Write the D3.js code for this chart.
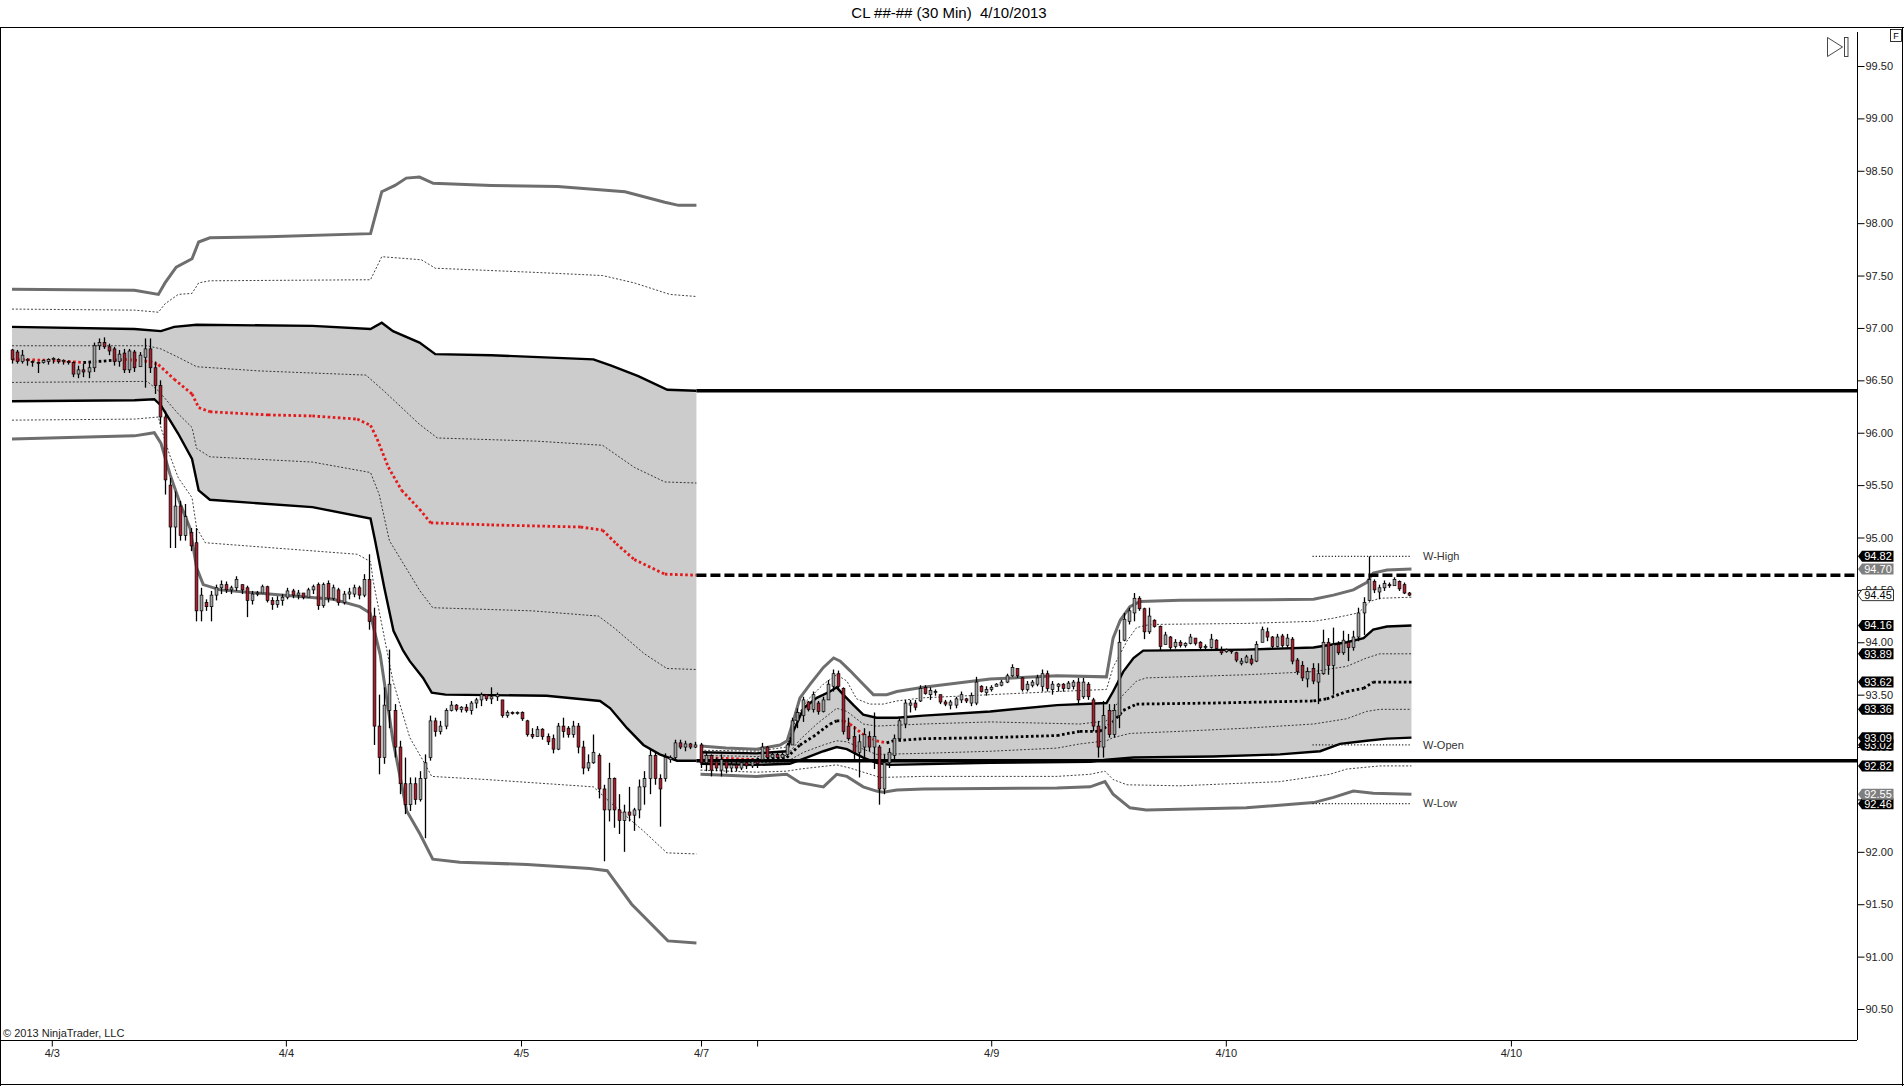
<!DOCTYPE html>
<html>
<head>
<meta charset="utf-8">
<script src="https://cdn.jsdelivr.net/npm/d3@7"></script>
<style>
  body { margin: 0; background: #fff; }
  svg { display: block; font-family: "Liberation Sans", Arial, sans-serif; }
  .title { white-space: pre; }
</style>
</head>
<body>
<svg id="chart" width="1904" height="1086"></svg>
<script>
var width = 1904,
    height = 1086;
const plotRight = 1857, plotTop = 27, plotBottom = 1040;

// 30 min bars, [open, high, low, close]
const week1Bars = [
  [96.79,96.80,96.66,96.70],[96.77,96.79,96.66,96.68],[96.68,96.79,96.66,96.74],[96.69,96.71,96.64,96.70],
  [96.68,96.69,96.63,96.67],[96.67,96.68,96.57,96.66],[96.67,96.70,96.66,96.69],[96.68,96.71,96.65,96.70],
  [96.70,96.72,96.66,96.71],[96.70,96.71,96.66,96.68],[96.68,96.70,96.65,96.69],[96.68,96.69,96.65,96.67],
  [96.67,96.68,96.53,96.56],[96.56,96.64,96.52,96.60],[96.60,96.66,96.53,96.58],[96.58,96.68,96.52,96.62],
  [96.62,96.86,96.58,96.83],[96.83,96.90,96.79,96.86],[96.86,96.91,96.80,96.82],[96.82,96.85,96.74,96.78],
  [96.80,96.82,96.64,96.68],[96.68,96.79,96.63,96.75],[96.76,96.80,96.57,96.60],[96.60,96.80,96.57,96.78],
  [96.77,96.79,96.58,96.62],[96.63,96.77,96.63,96.74],[96.72,96.90,96.43,96.80],[96.80,96.90,96.57,96.62],
  [96.62,96.68,96.37,96.45],[96.45,96.50,96.08,96.15],[96.15,96.21,95.41,95.55],[95.50,95.57,94.90,95.10],
  [95.10,95.44,94.90,95.30],[95.30,95.35,94.97,95.02],[95.02,95.32,94.97,95.20],[95.05,95.09,94.87,94.92],
  [94.95,95.09,94.20,94.30],[94.30,94.52,94.20,94.45],[94.38,94.41,94.30,94.34],[94.34,94.49,94.20,94.45],
  [94.45,94.55,94.40,94.52],[94.52,94.59,94.46,94.55],[94.55,94.58,94.47,94.50],[94.50,94.54,94.46,94.52],
  [94.52,94.63,94.49,94.60],[94.55,94.55,94.46,94.50],[94.52,94.54,94.24,94.40],[94.40,94.49,94.36,94.46],
  [94.46,94.49,94.44,94.47],[94.47,94.55,94.47,94.53],[94.53,94.54,94.38,94.40],[94.40,94.43,94.31,94.36],
  [94.36,94.44,94.33,94.40],[94.40,94.46,94.35,94.43],[94.43,94.52,94.41,94.49],[94.49,94.51,94.42,94.45],
  [94.45,94.50,94.41,94.47],[94.47,94.47,94.41,94.43],[94.43,94.52,94.43,94.50],[94.50,94.55,94.46,94.53],
  [94.55,94.57,94.31,94.35],[94.35,94.57,94.33,94.55],[94.56,94.59,94.38,94.42],[94.42,94.55,94.40,94.52],
  [94.50,94.52,94.35,94.38],[94.38,94.49,94.36,94.46],[94.46,94.52,94.41,94.48],[94.46,94.55,94.43,94.52],
  [94.52,94.54,94.41,94.45],[94.45,94.65,94.43,94.60],[94.60,94.84,94.12,94.20],[94.25,94.33,93.02,93.20],
  [93.20,93.50,92.74,92.90],[92.90,93.57,92.84,93.40],[93.35,93.93,93.18,93.60],[93.35,93.41,92.90,93.00],
  [93.00,93.06,92.55,92.65],[92.65,92.90,92.36,92.45],[92.45,92.71,92.39,92.65],[92.65,92.71,92.45,92.50],
  [92.50,92.77,92.48,92.70],[92.70,92.93,92.13,92.85],[92.90,93.30,92.87,93.25],[93.25,93.28,93.10,93.15],
  [93.15,93.25,93.12,93.20],[93.20,93.37,93.17,93.35],[93.35,93.44,93.34,93.40],[93.40,93.41,93.34,93.36],
  [93.36,93.39,93.33,93.38],[93.38,93.41,93.33,93.35],[93.35,93.44,93.31,93.42],[93.42,93.47,93.37,93.45],
  [93.45,93.52,93.39,93.50],[93.50,93.50,93.44,93.46],[93.46,93.57,93.41,93.48],[93.48,93.52,93.44,93.50],
  [93.45,93.45,93.28,93.30],[93.30,93.35,93.28,93.33],[93.33,93.34,93.31,93.32],[93.32,93.34,93.31,93.33],
  [93.33,93.34,93.25,93.27],[93.25,93.26,93.10,93.12],[93.12,93.18,93.08,93.10],[93.10,93.20,93.10,93.17],
  [93.17,93.18,93.07,93.10],[93.10,93.13,93.02,93.05],[93.08,93.12,92.94,92.98],[92.98,93.23,92.97,93.20],
  [93.20,93.28,93.09,93.15],[93.18,93.20,93.09,93.12],[93.12,93.25,93.09,93.20],[93.20,93.23,92.94,93.00],
  [93.00,93.06,92.74,92.80],[92.80,92.93,92.77,92.85],[92.85,93.12,92.84,92.95],[92.92,92.94,92.51,92.60],
  [92.60,92.64,91.91,92.40],[92.40,92.85,92.29,92.70],[92.70,92.71,92.23,92.40],[92.40,92.55,92.17,92.30],
  [92.30,92.45,92.00,92.38],[92.38,92.62,92.29,92.35],[92.35,92.42,92.20,92.40],[92.40,92.69,92.32,92.62],
  [92.62,92.77,92.45,92.70],[92.70,92.98,92.55,92.92],[92.92,92.96,92.64,92.70],[92.70,92.74,92.24,92.60],
  [92.70,92.94,92.67,92.90],[92.88,92.92,92.85,92.90],[92.90,93.07,92.87,93.04],[93.04,93.07,92.98,93.00],
  [93.00,93.06,92.96,93.03],[93.03,93.04,92.98,93.00],[93.00,93.05,92.99,93.02]
];
const week2Start = 135;
const week2Bars = [
  [93.02,93.04,92.80,92.85],[92.85,92.96,92.77,92.92],[92.92,92.93,92.72,92.78],[92.86,92.90,92.77,92.80],
  [92.78,92.93,92.72,92.88],[92.86,92.88,92.75,92.80],[92.80,92.86,92.76,92.83],[92.83,92.87,92.77,92.80],
  [92.80,92.88,92.78,92.85],[92.85,92.87,92.79,92.82],[92.82,92.89,92.80,92.86],[92.86,92.90,92.80,92.84],
  [92.88,93.04,92.87,93.00],[93.00,93.01,92.88,92.90],[92.90,92.95,92.88,92.93],[92.93,92.95,92.88,92.90],
  [92.90,92.95,92.87,92.93],[92.93,93.04,92.93,93.02],[93.02,93.28,93.02,93.25],[93.25,93.37,93.18,93.33],
  [93.30,93.48,93.24,93.45],[93.43,93.44,93.34,93.36],[93.36,93.53,93.33,93.50],[93.42,93.44,93.31,93.34],
  [93.34,93.48,93.33,93.45],[93.45,93.64,93.45,93.60],[93.58,93.74,93.53,93.70],[93.70,93.73,93.55,93.58],
  [93.56,93.57,93.12,93.15],[93.20,93.28,93.06,93.08],[93.10,93.20,92.87,92.95],[92.95,93.12,92.71,93.05],
  [93.00,93.18,92.88,93.12],[93.10,93.15,92.96,93.00],[93.00,93.33,92.79,93.10],[93.00,93.02,92.45,92.60],
  [92.60,92.93,92.55,92.85],[92.85,92.99,92.80,92.95],[92.92,93.12,92.87,93.08],[93.08,93.28,93.06,93.25],
  [93.22,93.45,93.18,93.42],[93.40,93.45,93.33,93.42],[93.42,93.45,93.35,93.38],[93.44,93.59,93.43,93.56],
  [93.57,93.59,93.50,93.51],[93.50,93.57,93.45,93.54],[93.52,93.55,93.49,93.53],[93.50,93.50,93.41,93.43],
  [93.43,93.45,93.39,93.41],[93.40,93.45,93.36,93.43],[93.40,93.48,93.37,93.46],[93.45,93.53,93.42,93.50],
  [93.46,93.47,93.42,93.44],[93.42,93.52,93.39,93.49],[93.42,93.67,93.40,93.62],[93.58,93.59,93.52,93.53],
  [93.52,93.58,93.49,93.55],[93.55,93.59,93.53,93.57],[93.58,93.61,93.58,93.60],[93.59,93.64,93.58,93.62],
  [93.62,93.70,93.61,93.68],[93.68,93.79,93.67,93.76],[93.75,93.75,93.66,93.68],[93.66,93.67,93.53,93.55],
  [93.55,93.63,93.53,93.60],[93.59,93.64,93.57,93.62],[93.60,93.69,93.58,93.66],[93.58,93.74,93.53,93.70],
  [93.70,93.73,93.53,93.56],[93.55,93.63,93.50,93.60],[93.58,93.61,93.53,93.60],[93.60,93.61,93.53,93.56],
  [93.56,93.63,93.55,93.61],[93.58,93.64,93.55,93.62],[93.62,93.66,93.40,93.45],[93.48,93.66,93.46,93.62],
  [93.60,93.62,93.45,93.48],[93.45,93.47,93.15,93.20],[93.20,93.25,92.90,93.00],[93.00,93.44,92.90,93.30],
  [93.35,93.41,93.09,93.12],[93.12,93.41,93.09,93.35],[93.30,94.12,93.18,94.00],[94.02,94.28,94.01,94.22],
  [94.20,94.33,94.17,94.30],[94.28,94.47,94.20,94.42],[94.42,94.44,94.30,94.32],[94.32,94.33,94.03,94.10],
  [94.10,94.33,94.08,94.25],[94.21,94.22,94.14,94.15],[94.15,94.16,93.92,93.96],[93.98,94.10,93.98,94.07],
  [94.05,94.06,93.92,93.95],[93.96,94.03,93.94,94.00],[94.00,94.02,93.95,93.97],[93.97,94.00,93.95,93.99],
  [93.99,94.08,93.98,94.05],[94.04,94.03,93.97,93.99],[94.00,94.01,93.93,93.95],[93.95,93.98,93.92,93.96],
  [93.95,94.08,93.94,94.03],[94.02,94.03,93.92,93.94],[93.92,93.96,93.88,93.90],[93.91,93.94,93.90,93.93],
  [93.92,93.93,93.89,93.91],[93.90,93.91,93.81,93.83],[93.80,93.85,93.78,93.82],[93.81,93.88,93.80,93.86],
  [93.84,93.88,93.78,93.80],[93.82,94.01,93.81,93.98],[94.00,94.15,94.00,94.12],[94.10,94.14,94.01,94.05],
  [94.05,94.06,93.94,93.96],[93.96,94.08,93.95,94.05],[94.06,94.08,93.95,93.97],[93.97,94.08,93.95,94.04],
  [94.03,94.05,93.79,93.82],[93.83,93.85,93.69,93.72],[93.78,93.82,93.63,93.66],[93.65,93.76,93.57,93.72],
  [93.75,93.80,93.60,93.63],[93.62,93.80,93.41,93.70],[93.70,94.12,93.69,94.00],[94.00,94.04,93.69,93.78],
  [93.78,94.14,93.50,93.98],[93.98,94.01,93.88,93.90],[93.90,94.11,93.88,94.02],[94.00,94.08,93.82,93.95],
  [93.95,94.11,93.92,94.05],[94.05,94.33,94.01,94.28],[94.28,94.43,94.07,94.38],[94.40,94.82,94.39,94.60],
  [94.58,94.60,94.47,94.50],[94.48,94.55,94.41,94.52],[94.52,94.59,94.49,94.56],[94.55,94.57,94.52,94.54],
  [94.54,94.62,94.54,94.60],[94.58,94.59,94.49,94.51],[94.55,94.57,94.46,94.47],[94.47,94.48,94.44,94.45]
];

// weekly VWAP bands, [bar index, price]
const w1OuterUp = [[0,97.37],[24,97.36],[28.7,97.32],[30,97.43],[32.2,97.58],[35.3,97.66],[36.6,97.82],[38.8,97.86],[50.2,97.87],[70.3,97.90],[72.5,98.30],[75.1,98.36],[77.3,98.43],[79.9,98.44],[82.6,98.38],[94,98.36],[107,98.35],[120.2,98.30],[128,98.20],[130.7,98.17],[134.2,98.17]];
const w1Up15 = [[0,97.18],[24,97.17],[28.7,97.15],[30,97.23],[32.6,97.32],[35.3,97.33],[36.6,97.43],[38.8,97.45],[70.3,97.46],[72.5,97.68],[80.3,97.65],[83,97.57],[102.7,97.53],[115.8,97.50],[122,97.43],[129,97.32],[134.2,97.30]];
const w1Up1 = [[0,97.01],[24,96.99],[29.2,96.97],[31.8,97.01],[36.2,97.03],[58.9,97.02],[70.3,96.99],[72.5,97.05],[74.7,96.97],[79.9,96.86],[83,96.75],[94,96.74],[114,96.70],[117.5,96.64],[122.8,96.54],[128.5,96.41],[134.2,96.40]];
const w1Up05 = [[0,96.83],[26.5,96.83],[29.2,96.80],[32.6,96.72],[36.2,96.63],[48.4,96.59],[69.4,96.55],[72.9,96.40],[79.9,96.08],[83.4,95.95],[102.7,95.92],[115.8,95.88],[122,95.67],[128,95.53],[134.2,95.52]];
const w1Vwap = [[0,96.70],[8,96.69],[14,96.67],[17,96.68],[22,96.70],[27,96.68],[28.7,96.65],[31.8,96.51],[35.3,96.37],[36.6,96.24],[38.8,96.20],[50.2,96.17],[58.9,96.16],[67.7,96.13],[70.3,96.07],[71.6,95.94],[73.8,95.67],[76.4,95.45],[79.9,95.27],[82.1,95.14],[94,95.12],[111.5,95.10],[115.8,95.07],[118.5,94.94],[122,94.79],[128,94.65],[134.2,94.64]];
const w1Lo05 = [[0,96.48],[26.5,96.49],[28.7,96.40],[32.6,96.18],[35.3,96.05],[36.2,95.85],[38.8,95.77],[58.9,95.72],[70.3,95.62],[72,95.41],[74,94.97],[80,94.49],[82.5,94.33],[102,94.30],[115,94.25],[118,94.14],[124,93.89],[128.4,93.75],[134.2,93.74]];
const w1Lo1 = [[0,96.30],[24,96.31],[27.9,96.32],[29.2,96.26],[32.6,95.99],[35.3,95.75],[36.6,95.45],[38.8,95.36],[58.9,95.29],[70.3,95.18],[71.2,94.97],[73,94.52],[74.8,94.11],[76.7,93.92],[78,93.82],[80.6,93.66],[82.3,93.52],[85,93.50],[104.8,93.49],[115.3,93.44],[117.3,93.37],[120.6,93.18],[123.8,93.02],[127,92.93],[130.4,92.87],[134.2,92.87]];
const w1Lo15 = [[0,96.12],[24,96.13],[28.7,96.15],[29.2,96.05],[30.9,95.79],[32.6,95.57],[35.3,95.38],[36.2,95.09],[37.9,94.95],[67.7,94.84],[70.3,94.77],[70.8,94.59],[74.7,93.63],[78,93.09],[80.6,92.87],[82.3,92.72],[93,92.69],[114,92.62],[117.8,92.45],[123.8,92.20],[128.4,91.99],[134.2,91.98]];
const w1OuterLo = [[0,95.94],[24,95.97],[27.9,96.00],[29.2,95.90],[31,95.60],[33,95.32],[34.9,95.09],[36.2,94.71],[37.5,94.55],[40.8,94.50],[63,94.41],[68.2,94.34],[70.2,94.28],[72.2,93.88],[74.7,93.06],[77.4,92.39],[80,92.17],[82.5,91.93],[87.8,91.90],[101,91.88],[113.3,91.84],[116.7,91.82],[121.5,91.50],[128.6,91.15],[134.2,91.13]];

const w2OuterUp = [[135,93.01],[140,92.99],[146,92.98],[150.6,93.02],[152,93.06],[153.2,93.25],[154.5,93.47],[156.5,93.60],[159.1,93.76],[161.1,93.85],[162.4,93.82],[164.3,93.73],[166.9,93.60],[168.9,93.50],[171.5,93.50],[173.5,93.53],[178.7,93.57],[191.8,93.65],[204.9,93.68],[214.6,93.67],[215.9,94.04],[217.3,94.21],[219.2,94.34],[221.2,94.39],[229,94.40],[255.2,94.41],[259.1,94.45],[263,94.50],[265.6,94.57],[266.9,94.66],[269.6,94.69],[274.4,94.70]];
const w2Up15 = [[135,92.97],[146,92.96],[151.9,93.00],[153.8,93.28],[155.8,93.44],[159.1,93.60],[161.7,93.69],[163.7,93.63],[165.6,93.46],[168.2,93.41],[170.8,93.41],[173.5,93.44],[178.7,93.47],[191.8,93.50],[204.9,93.53],[214.6,93.55],[215.9,93.76],[218.6,94.01],[220.5,94.14],[223.1,94.17],[242,94.18],[255.2,94.20],[259.1,94.23],[264,94.28],[266.3,94.39],[268.2,94.42],[274.4,94.43]];
const w2Up1 = [[135,92.95],[146,92.94],[151.9,92.96],[153.2,93.15],[155.2,93.37],[157.8,93.47],[160.4,93.53],[161.7,93.57],[163,93.50],[165,93.40],[166.9,93.31],[169.5,93.28],[173.5,93.28],[178.7,93.30],[191.8,93.34],[204.9,93.40],[214.6,93.42],[215.9,93.53],[217.9,93.72],[219.9,93.85],[221.8,93.92],[242,93.93],[255.2,93.95],[261.7,94.00],[265,94.04],[266.9,94.12],[269.6,94.15],[274.4,94.16]];
const w2Up05 = [[135,92.92],[146,92.91],[151.9,92.92],[154.5,93.07],[157.8,93.22],[161.7,93.37],[163.7,93.34],[166.9,93.22],[169.5,93.20],[178.7,93.22],[191.8,93.24],[209.4,93.22],[214.6,93.25],[215.9,93.36],[217.9,93.50],[220.5,93.63],[222.4,93.66],[242,93.69],[255.2,93.72],[261.7,93.77],[265.6,93.85],[268.2,93.89],[274.4,93.89]];
const w2Vwap = [[135,92.90],[146,92.88],[151.9,92.90],[154.5,93.02],[157.1,93.10],[160.4,93.22],[161.7,93.25],[163,93.25],[164.3,93.22],[166.9,93.12],[169.5,93.06],[171.5,93.04],[172.8,93.06],[178.7,93.08],[191.8,93.09],[204.9,93.11],[209.4,93.15],[213.3,93.15],[215.9,93.24],[217.9,93.35],[220.5,93.41],[235.5,93.42],[255.2,93.44],[257.8,93.46],[261.7,93.53],[265,93.56],[266.9,93.62],[274.4,93.62]];
const w2Lo05 = [[135,92.87],[146,92.85],[151.9,92.86],[155.2,92.95],[159.1,93.02],[161.7,93.06],[163.7,93.05],[166.9,92.98],[169.5,92.93],[178.7,92.94],[191.8,92.96],[204.9,92.99],[209.4,93.03],[214.6,93.06],[215.9,93.09],[219.2,93.13],[229,93.15],[242,93.18],[255.2,93.22],[261.7,93.27],[265.6,93.34],[268.2,93.36],[274.4,93.36]];
const w2Lo1 = [[135,92.84],[146,92.83],[152.5,92.84],[155.8,92.90],[159.1,92.96],[161.7,93.00],[163.7,92.98],[166.9,92.90],[169.5,92.85],[172.2,92.83],[191.8,92.85],[211.4,92.86],[214.6,92.88],[219.9,92.90],[235.5,92.91],[248.6,92.93],[256.5,92.96],[260.4,93.03],[265.6,93.06],[269.6,93.08],[274.4,93.09]];
const w2Lo15 = [[135,92.78],[146,92.76],[151.9,92.77],[154.5,92.79],[161.7,92.83],[164.3,92.80],[167.6,92.75],[170.2,92.71],[178.7,92.72],[204.9,92.72],[211.4,92.74],[214.3,92.77],[215.9,92.69],[218.6,92.64],[229,92.63],[248.6,92.67],[258.4,92.74],[261.7,92.79],[268.2,92.82],[274.4,92.82]];
const w2OuterLo = [[135,92.74],[146,92.72],[151.9,92.74],[154.5,92.66],[159.1,92.62],[161.7,92.74],[163.7,92.72],[166.9,92.62],[169.5,92.58],[170.8,92.57],[173.5,92.59],[178.7,92.60],[204.9,92.61],[211.4,92.62],[214.3,92.67],[215.9,92.55],[219.2,92.42],[222.4,92.40],[242,92.42],[255.2,92.47],[259.1,92.52],[263,92.58],[266.9,92.56],[274.4,92.55]];

// current week high / open / low
const weekLevels = ["W-High", "W-Open", "W-Low"];
const weekValues = [94.82, 93.02, 92.46];
const weekSpan = [255, 274.3];

// axes
const yTicks = d3.range(90.5, 99.51, 0.5);
const xTickIdx = [7.8, 53.7, 99.8, 135.1, 146.1, 192, 238, 293.9];
const xTickLabels = ["4/3", "4/4", "4/5", "4/7", "", "4/9", "4/10", "4/10"];

const RED = "#a81f2d", UPGRAY = "#a3a3a3", OUTER = "#6e6e6e", FILL = "#cccccc";

const x = d3.scaleLinear().domain([0, 361.76]).range([12, plotRight]);
const y = d3.scaleLinear().domain([90.5, 99.5]).range([1009, 66]);

const svg = d3.select("#chart");
const last = a => a[a.length - 1][1];

svg.append("defs").append("clipPath").attr("id", "plotclip")
    .append("rect").attr("x", 1).attr("y", plotTop + 1)
    .attr("width", plotRight - 1).attr("height", plotBottom - plotTop - 1);

const plot = svg.append("g").attr("clip-path", "url(#plotclip)");
const line = d3.line().x(d => x(d[0])).y(d => y(d[1]));

// gray area between the +1 and -1 bands
function drawFill(upper, lower) {
    const pts = upper.concat(lower.slice().reverse());
    plot.append("path").attr("d", line(pts) + "Z").attr("fill", FILL);
}

function drawBand(pts, kind) {
    const p = plot.append("path").attr("d", line(pts)).attr("fill", "none");
    if (kind == "outer") p.attr("stroke", OUTER).attr("stroke-width", 3);
    else if (kind == "main") p.attr("stroke", "#000").attr("stroke-width", 2.4);
    else p.attr("stroke", "#111").attr("stroke-width", 0.8).attr("stroke-dasharray", "2,1.8");
}

// VWAP dots: red while falling, black while rising
function drawVwap(pts) {
    const g = plot.append("g");
    g.selectAll("path")
        .data(d3.pairs(pts))
        .join("path")
        .attr("d", d => line(d))
        .attr("fill", "none")
        .attr("stroke", d => d[1][1] < d[0][1] ? "#e31a1c" : "#000")
        .attr("stroke-width", 2.8)
        .attr("stroke-dasharray", "2.6,2.5");
}

drawFill(w1Up1, w1Lo1);
drawFill(w2Up1, w2Lo1);

[[w1OuterUp, "outer"], [w1Up15, "thin"], [w1Up1, "main"], [w1Up05, "thin"],
 [w1Lo05, "thin"], [w1Lo1, "main"], [w1Lo15, "thin"], [w1OuterLo, "outer"],
 [w2OuterUp, "outer"], [w2Up15, "thin"], [w2Up1, "main"], [w2Up05, "thin"],
 [w2Lo05, "thin"], [w2Lo1, "main"], [w2Lo15, "thin"], [w2OuterLo, "outer"]]
    .forEach(function (b) { drawBand(b[0], b[1]); });

drawVwap(w1Vwap);
drawVwap(w2Vwap);

// prior week levels carried forward
const priorStart = w1Up1[w1Up1.length - 1][0];
const priorLevels = [last(w1Up1), last(w1Vwap), last(w1Lo1)];
plot.append("g").selectAll("line")
    .data(priorLevels)
    .join("line")
    .attr("x1", x(priorStart)).attr("x2", plotRight)
    .attr("y1", d => y(d)).attr("y2", d => y(d))
    .attr("stroke", "#000").attr("stroke-width", 3.4)
    .attr("stroke-dasharray", (d, i) => i == 1 ? "10,4" : null);

// W-High / W-Open / W-Low
plot.append("g").selectAll("line")
    .data(weekValues)
    .join("line")
    .attr("x1", x(weekSpan[0])).attr("x2", x(weekSpan[1]))
    .attr("y1", d => y(d)).attr("y2", d => y(d))
    .attr("stroke", "#222").attr("stroke-width", 1.2)
    .attr("stroke-dasharray", "1.2,2");
plot.append("g").selectAll("text")
    .data(weekValues)
    .join("text")
    .attr("x", 1423).attr("y", d => y(d)).attr("dy", "0.35em")
    .attr("font-size", 11).attr("fill", "#333")
    .text((d, i) => weekLevels[i]);

// candles
function drawBars(bars, start) {
    const g = plot.append("g");
    g.selectAll("line")
        .data(bars)
        .join("line")
        .attr("x1", (d, i) => Math.round(x(start + i)) + 0.5)
        .attr("x2", (d, i) => Math.round(x(start + i)) + 0.5)
        .attr("y1", d => y(d[1]))
        .attr("y2", d => y(d[2]))
        .attr("stroke", "#000").attr("stroke-width", 1.3);
    g.selectAll("rect")
        .data(bars)
        .join("rect")
        .attr("x", (d, i) => Math.round(x(start + i)) + 0.5 - 1.4)
        .attr("y", d => y(Math.max(d[0], d[3])))
        .attr("width", 2.8)
        .attr("height", d => Math.max(y(Math.min(d[0], d[3])) - y(Math.max(d[0], d[3])), 0.8))
        .attr("fill", d => d[3] < d[0] ? RED : UPGRAY)
        .attr("stroke", "#000").attr("stroke-width", 0.7);
}
drawBars(week1Bars, 0);
drawBars(week2Bars, week2Start);

// frame
svg.append("line").attr("x1", 0).attr("x2", width).attr("y1", plotTop + 0.5).attr("y2", plotTop + 0.5).attr("stroke", "#000");
svg.append("line").attr("x1", 0.5).attr("x2", 0.5).attr("y1", plotTop).attr("y2", height).attr("stroke", "#000");
svg.append("line").attr("x1", width - 1.5).attr("x2", width - 1.5).attr("y1", plotTop).attr("y2", height).attr("stroke", "#000");
svg.append("line").attr("x1", 0).attr("x2", width).attr("y1", height - 1.5).attr("y2", height - 1.5).attr("stroke", "#000");
svg.append("line").attr("x1", plotRight + 0.5).attr("x2", plotRight + 0.5).attr("y1", 32).attr("y2", plotBottom).attr("stroke", "#000");
svg.append("line").attr("x1", 0).attr("x2", plotRight).attr("y1", plotBottom + 0.5).attr("y2", plotBottom + 0.5).attr("stroke", "#000");

// title
svg.append("text").attr("class", "title").attr("x", 949).attr("y", 18).attr("text-anchor", "middle")
    .attr("font-size", 15).attr("fill", "#000")
    .text("CL ##-## (30 Min)  4/10/2013");

// price axis
const yAxis = d3.axisRight(y).tickValues(yTicks).tickSize(7).tickPadding(1)
    .tickFormat(d3.format(".2f"));
svg.append("g")
    .attr("transform", "translate(" + (plotRight + 0.5) + ",0)")
    .call(yAxis)
    .call(g => g.select(".domain").remove())
    .call(g => g.selectAll("text").attr("font-family", "Liberation Sans, Arial, sans-serif")
        .attr("font-size", 11).attr("fill", "#222"))
    .call(g => g.selectAll("line").attr("stroke", "#000"));

// time axis
const xAxis = d3.axisBottom(x).tickValues(xTickIdx).tickSize(6).tickPadding(3)
    .tickFormat((d, i) => xTickLabels[i]);
svg.append("g")
    .attr("transform", "translate(0," + (plotBottom + 0.5) + ")")
    .call(xAxis)
    .call(g => g.select(".domain").remove())
    .call(g => g.selectAll("text").attr("font-family", "Liberation Sans, Arial, sans-serif")
        .attr("font-size", 11).attr("fill", "#222"))
    .call(g => g.selectAll("line").attr("stroke", "#000"));

// value markers on the price axis (they overlap as in the original)
const lastClose = week2Bars[week2Bars.length - 1][3];
const markers = [
    { v: weekValues[2], fill: "#000", color: "#fff" },
    { v: weekValues[1], fill: "#000", color: "#fff" },
    { v: weekValues[0], fill: "#000", color: "#fff" },
    { v: last(w2Lo15), fill: "#000", color: "#fff" },
    { v: last(w2OuterLo), fill: "#7f7f7f", color: "#fff" },
    { v: last(w2Lo1), fill: "#000", color: "#fff" },
    { v: last(w2Lo05), fill: "#000", color: "#fff" },
    { v: last(w2Vwap), fill: "#000", color: "#fff" },
    { v: last(w2Up05), fill: "#000", color: "#fff" },
    { v: last(w2Up1), fill: "#000", color: "#fff" },
    { v: lastClose, fill: "#fff", color: "#000", stroke: "#000" },
    { v: last(w2OuterUp), fill: "#7f7f7f", color: "#fff" }
];
const mk = svg.append("g").selectAll("g").data(markers).join("g")
    .attr("transform", d => "translate(0," + y(d.v) + ")");
mk.append("path")
    .attr("d", "M1858,0 L1862,-5.5 L1893.5,-5.5 L1893.5,5.5 L1862,5.5 Z")
    .attr("fill", d => d.fill)
    .attr("stroke", d => d.stroke || "none").attr("stroke-width", 0.8);
mk.append("text")
    .attr("x", 1878).attr("dy", "0.36em").attr("text-anchor", "middle")
    .attr("font-size", 11).attr("fill", d => d.color)
    .text(d => d3.format(".2f")(d.v));

// copyright
svg.append("text").attr("x", 3).attr("y", 1037).attr("font-size", 11).attr("fill", "#222")
    .text("\u00a9 2013 NinjaTrader, LLC");

// small controls at top right
svg.append("rect").attr("x", 1890.5).attr("y", 29.5).attr("width", 11).attr("height", 12)
    .attr("fill", "#fff").attr("stroke", "#000").attr("stroke-width", 0.8);
svg.append("text").attr("x", 1896).attr("y", 39).attr("text-anchor", "middle")
    .attr("font-size", 9).attr("fill", "#000").text("F");
svg.append("path").attr("d", "M1827.5,37.5 L1842.5,47 L1827.5,56.5 Z")
    .attr("fill", "none").attr("stroke", "#333").attr("stroke-width", 0.9);
svg.append("rect").attr("x", 1844.5).attr("y", 37.5).attr("width", 3.5).attr("height", 19)
    .attr("fill", "none").attr("stroke", "#333").attr("stroke-width", 0.9);
</script>
</body>
</html>
